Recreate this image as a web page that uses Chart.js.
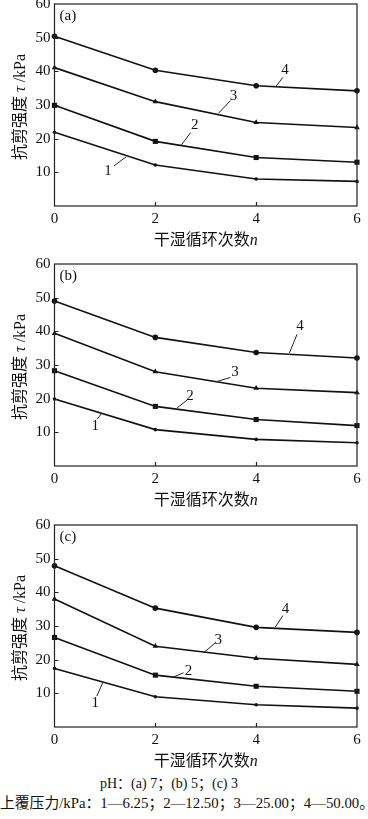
<!DOCTYPE html>
<html>
<head>
<meta charset="utf-8">
<script src="https://cdn.jsdelivr.net/npm/chart.js@4"></script>
<style>
  body { margin: 0; background: #fff; width: 368px; height: 819px; overflow: hidden; position: relative;
         font-family: "Liberation Serif", "Noto Sans CJK SC", serif; color: #111; }
  .panel { position: absolute; left: 0; width: 368px; }
  .cap { position: absolute; white-space: nowrap; font-size: 14px; line-height: 18px; }
</style>
</head>
<body>
<div class="panel" style="top:0px;height:250px"><canvas id="chart-a"></canvas></div>
<div class="panel" style="top:250px;height:260px"><canvas id="chart-b"></canvas></div>
<div class="panel" style="top:511px;height:260px"><canvas id="chart-c"></canvas></div>
<div class="cap" style="top:775px;left:100px">pH：(a) 7；(b) 5；(c) 3</div>
<div class="cap" style="top:794px;left:0px;font-size:14.8px">上覆压力/kPa：1—6.25；2—12.50；3—25.00；4—50.00。</div>

<script>
const cycles = [0, 2, 4, 6];

// pH 7
const tauA1 = [21.9, 12.2, 8.0, 7.3];
const tauA2 = [29.9, 19.2, 14.4, 13.0];
const tauA3 = [41.1, 31.0, 24.8, 23.3];
const tauA4 = [50.4, 40.3, 35.7, 34.2];
// pH 5
const tauB1 = [19.9, 10.8, 7.9, 6.9];
const tauB2 = [28.3, 17.7, 13.8, 12.0];
const tauB3 = [39.4, 28.0, 23.1, 21.8];
const tauB4 = [49.0, 38.2, 33.7, 32.1];
// pH 3
const tauC1 = [17.4, 9.0, 6.6, 5.6];
const tauC2 = [26.6, 15.4, 12.1, 10.6];
const tauC3 = [38.0, 24.0, 20.4, 18.6];
const tauC4 = [47.9, 35.3, 29.6, 28.1];

const yTicks = [0, 10, 20, 30, 40, 50, 60];
// axis titles split in pieces so the symbols can be italic
const xTitle = [['干湿循环次数', false], ['n', true]];
const yTitle = [['抗剪强度 ', false], ['τ', true], [' /kPa', false]];

// curve number labels with leader lines (data units)
const labelsA = [
  { t: '1', tx: 1.06, ty: 10.4, x1: 1.18, y1: 11.9, x2: 1.42, y2: 14.6 },
  { t: '2', tx: 2.78, ty: 23.9, x1: 2.70, y1: 21.8, x2: 2.52, y2: 18.2 },
  { t: '3', tx: 3.55, ty: 32.8, x1: 3.49, y1: 31.3, x2: 3.25, y2: 27.5 },
  { t: '4', tx: 4.57, ty: 40.3, x1: 4.53, y1: 38.2, x2: 4.39, y2: 35.5 }
];
const labelsB = [
  { t: '1', tx: 0.81, ty: 12.0, x1: 0.85, y1: 14.0, x2: 0.94, y2: 15.7 },
  { t: '2', tx: 2.69, ty: 20.9, x1: 2.63, y1: 19.6, x2: 2.43, y2: 17.2 },
  { t: '3', tx: 3.58, ty: 27.8, x1: 3.49, y1: 26.3, x2: 3.22, y2: 25.1 },
  { t: '4', tx: 4.87, ty: 41.6, x1: 4.81, y1: 39.1, x2: 4.66, y2: 33.6 }
];
const labelsC = [
  { t: '1', tx: 0.81, ty: 7.2, x1: 0.84, y1: 9.2, x2: 0.96, y2: 13.3 },
  { t: '2', tx: 2.66, ty: 16.6, x1: 2.56, y1: 16.1, x2: 2.35, y2: 14.8 },
  { t: '3', tx: 3.25, ty: 25.9, x1: 3.19, y1: 25.0, x2: 2.97, y2: 22.2 },
  { t: '4', tx: 4.58, ty: 34.9, x1: 4.53, y1: 33.1, x2: 4.38, y2: 29.7 }
];

const SERIF = '"Liberation Serif", "Noto Sans CJK SC", serif';

// draws a title made of [text, italic] pieces centred on (0,0)
function drawPieces(ctx, pieces, size) {
  const fonts = pieces.map(p => (p[1] ? 'italic ' : '') + size + 'px ' + SERIF);
  let total = 0;
  const widths = pieces.map((p, i) => { ctx.font = fonts[i]; const w = ctx.measureText(p[0]).width; total += w; return w; });
  let cx = -total / 2;
  ctx.textAlign = 'left';
  ctx.textBaseline = 'middle';
  pieces.forEach((p, i) => { ctx.font = fonts[i]; ctx.fillText(p[0], cx, 0); cx += widths[i]; });
}

const framePlugin = {
  id: 'frame',
  afterDraw(chart, args, opts) {
    const { ctx, chartArea: a, scales: { x, y } } = chart;
    ctx.save();
    ctx.strokeStyle = '#222';
    ctx.lineWidth = 1.2;
    ctx.strokeRect(a.left, a.top, a.right - a.left, a.bottom - a.top);

    ctx.beginPath();
    y.ticks.forEach(t => {
      if (t.value > 0 && t.value < 60) {
        const py = Math.round(y.getPixelForValue(t.value)) + 0.5;
        ctx.moveTo(a.left, py);
        ctx.lineTo(a.left + 4, py);
      }
    });
    x.ticks.forEach(t => {
      if (t.value > 0 && t.value < 6) {
        const px = Math.round(x.getPixelForValue(t.value)) + 0.5;
        ctx.moveTo(px, a.bottom);
        ctx.lineTo(px, a.bottom - 4);
      }
    });
    ctx.stroke();

    ctx.fillStyle = '#111';

    // axis titles
    ctx.save();
    ctx.translate((a.left + a.right) / 2, a.bottom + 35);
    drawPieces(ctx, xTitle, 16);
    ctx.restore();
    ctx.save();
    ctx.translate(21, (a.top + a.bottom) / 2 + 2);
    ctx.rotate(-Math.PI / 2);
    drawPieces(ctx, yTitle, 16);
    ctx.restore();

    ctx.font = '15px ' + SERIF;
    ctx.textAlign = 'left';
    ctx.textBaseline = 'middle';
    ctx.fillText(opts.tag, a.left + 5, a.top + 12);

    ctx.textAlign = 'center';
    ctx.lineWidth = 1;
    opts.labels.forEach(l => {
      ctx.beginPath();
      ctx.moveTo(x.getPixelForValue(l.x1), y.getPixelForValue(l.y1));
      ctx.lineTo(x.getPixelForValue(l.x2), y.getPixelForValue(l.y2));
      ctx.stroke();
      ctx.fillText(l.t, x.getPixelForValue(l.tx), y.getPixelForValue(l.ty));
    });
    ctx.restore();
  }
};

function series(values, style, radius) {
  return {
    data: cycles.map((c, i) => ({ x: c, y: values[i] })),
    borderColor: '#111',
    backgroundColor: '#111',
    borderWidth: 1.6,
    pointStyle: style,
    pointRadius: radius,
    pointBorderWidth: 0,
    tension: 0,
    clip: false
  };
}

function makeChart(id, tag, s1, s2, s3, s4, labels, padTop) {
  return new Chart(document.getElementById(id), {
    type: 'line',
    data: {
      datasets: [
        series(s1, 'circle', 1.8),
        series(s2, 'rect', 3.6),
        series(s3, 'triangle', 3.2),
        series(s4, 'circle', 2.8)
      ]
    },
    options: {
      responsive: true,
      maintainAspectRatio: false,
      animation: false,
      events: [],
      layout: { padding: { top: padTop, right: 11, left: 0, bottom: 0 } },
      plugins: {
        legend: { display: false },
        tooltip: { enabled: false },
        frame: { tag, labels }
      },
      scales: {
        x: {
          type: 'linear',
          min: 0, max: 6,
          grid: { display: false, drawTicks: false },
          border: { display: false },
          ticks: { stepSize: 2, padding: 4, color: '#111', font: { family: SERIF, size: 15 } },
          title: { display: false },
          afterFit(s) { s.height = 44; s.paddingLeft = 0; s.paddingRight = 0; }
        },
        y: {
          min: 0, max: 60,
          grid: { display: false, drawTicks: false },
          border: { display: false },
          afterBuildTicks(s) { s.ticks = yTicks.map(v => ({ value: v })); },
          ticks: { padding: 4, color: '#111', font: { family: SERIF, size: 15 },
                   callback: v => (v === 0 ? '' : v) },
          title: { display: false },
          afterFit(s) { s.width = 54.5; s.paddingTop = 0; s.paddingBottom = 0; }
        }
      }
    },
    plugins: [framePlugin]
  });
}

makeChart('chart-a', '(a)', tauA1, tauA2, tauA3, tauA4, labelsA, 4);
makeChart('chart-b', '(b)', tauB1, tauB2, tauB3, tauB4, labelsB, 14);
makeChart('chart-c', '(c)', tauC1, tauC2, tauC3, tauC4, labelsC, 14);
</script>
</body>
</html>
